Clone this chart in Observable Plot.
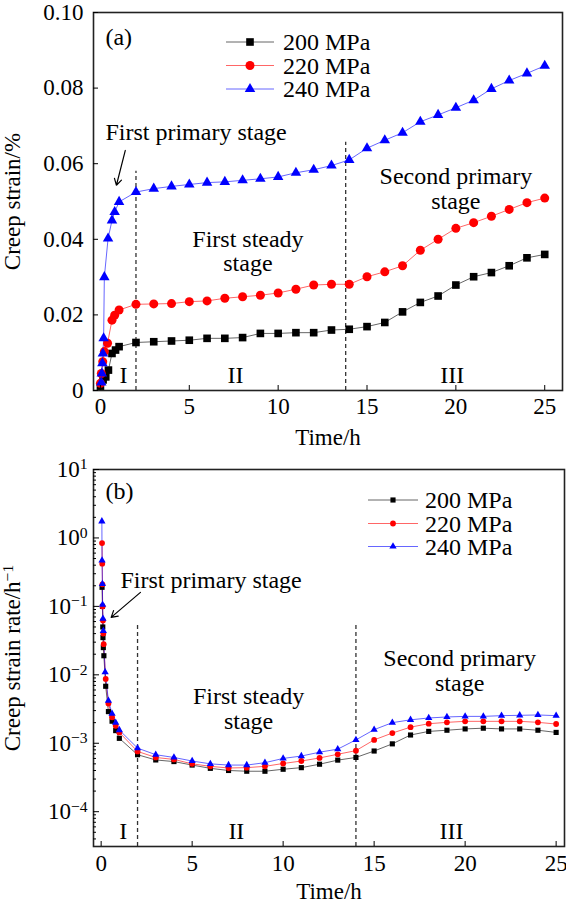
<!DOCTYPE html>
<html><head><meta charset="utf-8">
<script src="https://cdn.jsdelivr.net/npm/d3@7"></script>
<script src="https://cdn.jsdelivr.net/npm/@observablehq/plot@0.6"></script>
<style>
html,body{margin:0;padding:0;background:#fff;}
#chart{width:566px;}
#chart svg{display:block;}
</style></head><body><div id="chart"></div>
<script>
const series = ["200 MPa", "220 MPa", "240 MPa"];
const seriesColors = ["#000000", "#ff0000", "#0000ff"];
const seriesSymbols = ["square", "circle", "triangle"];
const timeTicks = [0, 5, 10, 15, 20, 25];
const strainTicks = [0, 0.02, 0.04, 0.06, 0.08, 0.10];
const rateTicks = [1e-4, 1e-3, 1e-2, 1e-1, 1, 10];

// (a) creep strain, %
const strainHours200 = [0,0.15,0.3,0.45,0.65,0.85,1.05,2,3,4,5,6,7,8,9,10,11,12,13,14,15,16,17,18,19,20,21,22,23,24,25];
const strain200 = [0.001,0.0028,0.0036,0.0054,0.0098,0.0107,0.0116,0.0127,0.0129,0.0131,0.0133,0.0138,0.0138,0.0140,0.0151,0.0151,0.0153,0.0153,0.0160,0.0162,0.0169,0.0180,0.0208,0.0233,0.0250,0.0279,0.0301,0.0312,0.0330,0.0351,0.0360];
const strainHours220 = [0,0.05,0.13,0.22,0.4,0.65,0.8,1.05,2,3,4,5,6,7,8,9,10,11,12,13,14,15,16,17,18,19,20,21,22,23,24,25];
const strain220 = [0.0019,0.0045,0.0076,0.0103,0.0125,0.0186,0.0199,0.0213,0.0228,0.0229,0.0230,0.0235,0.0237,0.0244,0.0248,0.0252,0.0258,0.0268,0.0279,0.0281,0.0281,0.0301,0.0314,0.0330,0.0371,0.0400,0.0429,0.0444,0.0461,0.0479,0.0497,0.0509];
const strainHours240 = [0.05,0.08,0.11,0.14,0.18,0.22,0.43,0.65,0.8,1.05,2,3,4,5,6,7,8,9,10,11,12,13,14,15,16,17,18,19,20,21,22,23,24,25];
const strain240 = [0.0021,0.0045,0.0072,0.0098,0.0138,0.0300,0.0402,0.0450,0.0472,0.0499,0.0525,0.0534,0.0540,0.0545,0.0550,0.0552,0.0556,0.0560,0.0565,0.0576,0.0584,0.0595,0.0610,0.0641,0.0662,0.0682,0.0711,0.0729,0.0748,0.0768,0.0798,0.0820,0.0839,0.0859];

// (b) creep strain rate, 1/h
const rateHours200 = [0.05,0.07,0.09,0.1,0.12,0.15,0.25,0.4,0.6,0.8,1.0,2,3,4,5,6,7,8,9,10,11,12,13,14,15,16,17,18,19,20,21,22,23,24,25];
const rate200 = [0.19,0.1,0.05,0.035,0.025,0.019,0.0068,0.0029,0.0021,0.00153,0.00118,6.8e-4,5.7e-4,5.4e-4,4.8e-4,4.3e-4,4.0e-4,3.9e-4,3.9e-4,4.17e-4,4.4e-4,4.94e-4,5.67e-4,6.2e-4,7.7e-4,9.8e-4,1.32e-3,1.49e-3,1.55e-3,1.62e-3,1.66e-3,1.62e-3,1.62e-3,1.55e-3,1.44e-3];
const rateHours220 = [0.05,0.06,0.07,0.08,0.1,0.12,0.14,0.25,0.4,0.6,0.8,1.0,2,3,4,5,6,7,8,9,10,11,12,13,14,15,16,17,18,19,20,21,22,23,24,25];
const rate220 = [0.84,0.42,0.21,0.1,0.062,0.04,0.028,0.0087,0.0038,0.0024,0.0018,0.00144,7.6e-4,6.2e-4,5.8e-4,5.0e-4,4.6e-4,4.35e-4,4.4e-4,4.6e-4,5.06e-4,5.5e-4,6.1e-4,6.9e-4,7.8e-4,1.12e-3,1.41e-3,1.72e-3,1.93e-3,2.02e-3,2.09e-3,2.09e-3,2.09e-3,2.09e-3,2.02e-3,1.91e-3];
const rateHours240 = [0.04,0.05,0.07,0.08,0.1,0.12,0.22,0.4,0.6,0.8,1.0,2,3,4,5,6,7,8,9,10,11,12,13,14,15,16,17,18,19,20,21,22,23,24,25];
const rate240 = [1.75,0.47,0.213,0.106,0.066,0.044,0.0109,0.0042,0.0027,0.0020,0.00156,8.5e-4,6.8e-4,6.2e-4,5.5e-4,5.0e-4,4.8e-4,4.8e-4,5.2e-4,6.0e-4,6.5e-4,7.4e-4,8.2e-4,1.12e-3,1.58e-3,2.0e-3,2.2e-3,2.34e-3,2.42e-3,2.47e-3,2.47e-3,2.53e-3,2.56e-3,2.59e-3,2.53e-3];

// stage boundaries and annotations
const stageA = [{t: 2, top: 0.058}, {t: 13.8, top: 0.0657}];
const stageB = [{t: 2, top: 0.056}, {t: 14, top: 0.053}];
const notesA = [
  {t: 8.3, v: 0.0368, text: "First steady\nstage"},
  {t: 20.0, v: 0.0534, text: "Second primary\nstage"},
  {t: 1.3, v: 0.0041, text: "I"}, {t: 7.6, v: 0.0041, text: "II"}, {t: 19.8, v: 0.0041, text: "III"}
];
const notesStartA = [{t: 0.28, v: 0.0934, text: "(a)"}, {t: 0.28, v: 0.0683, text: "First primary stage"}];
const notesB = [
  {t: 8.1, v: 3.2e-3, text: "First steady\nstage"},
  {t: 19.7, v: 0.0115, text: "Second primary\nstage"},
  {t: 1.22, v: 5.27e-5, text: "I"}, {t: 7.43, v: 5.27e-5, text: "II"}, {t: 19.25, v: 5.27e-5, text: "III"}
];
const notesStartB = [{t: 0.24, v: 4.77, text: "(b)"}, {t: 1.06, v: 0.238, text: "First primary stage"}];
const arrowA = [{t1: 1.4, v1: 0.0635, t2: 0.9, v2: 0.0543}];
const arrowB = [{t1: 2.16, v1: 0.16, t2: 0.55, v2: 0.069}];

const strainRows = [
  ...strainHours200.map((t, i) => ({s: series[0], t, v: strain200[i]})),
  ...strainHours220.map((t, i) => ({s: series[1], t, v: strain220[i]})),
  ...strainHours240.map((t, i) => ({s: series[2], t, v: strain240[i]}))
];
const rateRows = [
  ...rateHours200.map((t, i) => ({s: series[0], t, v: rate200[i]})),
  ...rateHours220.map((t, i) => ({s: series[1], t, v: rate220[i]})),
  ...rateHours240.map((t, i) => ({s: series[2], t, v: rate240[i]}))
];
const minorRate = [];
for (let e = -5; e < 1; e++) for (let m = 2; m <= 9; m++) { const v = m * Math.pow(10, e); if (v > 3.1e-5 && v < 10) minorRate.push(v); }

const FONT = "'Liberation Serif', 'Times New Roman', serif";
const style = {fontFamily: FONT, fontSize: "23px", color: "#000", background: "#fff", overflow: "visible"};

function seriesMarks(rows, radii) {
  return series.map((s, k) => Plot.dot(rows.filter(d => d.s === s), {
    x: "t", y: "v", symbol: seriesSymbols[k], fill: seriesColors[k], stroke: "none", r: radii[k]
  }));
}

const plotA = Plot.plot({
  width: 566, height: 450, marginTop: 12, marginBottom: 60, marginLeft: 93, marginRight: 4,
  style,
  x: {domain: [-0.39, 26.0]},
  y: {domain: [0, 0.1]},
  color: {domain: series, range: seriesColors},
  marks: [
    Plot.ruleX(stageA, {x: "t", y1: 0, y2: "top", stroke: "#333", strokeWidth: 1.3, strokeDasharray: "4,3"}),
    Plot.line(strainRows, {x: "t", y: "v", z: "s", stroke: "s", strokeWidth: 1, strokeOpacity: 0.6}),
    ...seriesMarks(strainRows, [4.3, 4.5, 3.9]),
    Plot.text(notesA, {x: "t", y: "v", text: "text", fontSize: 24, lineHeight: 1.02, fill: "#000"}),
    Plot.text(notesStartA, {x: "t", y: "v", text: "text", fontSize: 24, textAnchor: "start", fill: "#000"}),
    Plot.arrow(arrowA, {x1: "t1", y1: "v1", x2: "t2", y2: "v2", stroke: "#000", strokeWidth: 1.2, headLength: 9}),
    Plot.frame({stroke: "#222", strokeWidth: 1.6}),
    Plot.axisX({ticks: timeTicks, tickSize: -5, tickPadding: 12, label: "Time/h", labelAnchor: "center", labelOffset: 54.5, labelArrow: "none"}),
    Plot.axisY({ticks: strainTicks, tickSize: -5, tickPadding: 15, tickFormat: d => d === 0 ? "0" : d.toFixed(2), label: "Creep strain/%", labelAnchor: "center", labelArrow: "none"})
  ]
});

const plotB = Plot.plot({
  width: 566, height: 457, marginTop: 19, marginBottom: 61, marginLeft: 93, marginRight: 2,
  style,
  x: {domain: [-0.42, 25.46]},
  y: {type: "log", domain: [3.1e-5, 10]},
  color: {domain: series, range: seriesColors},
  marks: [
    Plot.ruleX(stageB, {x: "t", y1: 3.1e-5, y2: "top", stroke: "#333", strokeWidth: 1.3, strokeDasharray: "4,3"}),
    Plot.line(rateRows, {x: "t", y: "v", z: "s", stroke: "s", strokeWidth: 1, strokeOpacity: 0.6}),
    ...seriesMarks(rateRows, [2.9, 2.9, 2.7]),
    Plot.text(notesB, {x: "t", y: "v", text: "text", fontSize: 24, lineHeight: 1.02, fill: "#000"}),
    Plot.text(notesStartB, {x: "t", y: "v", text: "text", fontSize: 24, textAnchor: "start", fill: "#000"}),
    Plot.arrow(arrowB, {x1: "t1", y1: "v1", x2: "t2", y2: "v2", stroke: "#000", strokeWidth: 1.2, headLength: 9}),
    Plot.frame({stroke: "#222", strokeWidth: 1.6}),
    Plot.axisX({ticks: timeTicks, tickSize: -5, tickPadding: 13, label: "Time/h", labelAnchor: "center", labelOffset: 52, labelArrow: "none"}),
    Plot.axisY(minorRate, {tickSize: -3, tickFormat: () => "", label: null}),
    Plot.axisY({ticks: rateTicks, tickSize: -6, tickPadding: 12, tickFormat: d => String(Math.round(Math.log10(d))), label: "Creep strain rate/h", labelAnchor: "center", labelArrow: "none"})
  ]
});

// superscripts for log tick labels and the rate unit
d3.select(plotB).selectAll('g[aria-label="y-axis tick label"] text').each(function () {
  const e = this.textContent;
  if (!e) return;
  const t = d3.select(this);
  t.text("");
  t.append("tspan").text("10");
  t.append("tspan").attr("dy", "-0.48em").attr("font-size", "0.68em").text(e.replace("-", "\u2212"));
});
d3.select(plotB).selectAll('g[aria-label="y-axis label"] text').each(function () {
  const t = d3.select(this);
  const s = this.textContent;
  t.text("");
  t.append("tspan").text(s);
  t.append("tspan").attr("dy", "-0.45em").attr("font-size", "0.68em").text("\u22121");
});

// in-plot legends
function legend(svg, {xl1, xl2, xm, xt, ys, radii, fontSize}) {
  const g = d3.select(svg).append("g").attr("font-family", FONT).attr("font-size", fontSize).attr("text-anchor", "start");
  const syms = [d3.symbolSquare, d3.symbolCircle, d3.symbolTriangle];
  series.forEach((s, k) => {
    g.append("line").attr("x1", xl1).attr("x2", xl2).attr("y1", ys[k]).attr("y2", ys[k])
      .attr("stroke", seriesColors[k]).attr("stroke-width", 1).attr("stroke-opacity", 0.6);
    g.append("path").attr("transform", `translate(${xm},${ys[k]})`)
      .attr("d", d3.symbol(syms[k], Math.PI * radii[k] * radii[k])()).attr("fill", seriesColors[k]);
    g.append("text").attr("x", xt).attr("y", ys[k]).attr("dy", "0.34em").attr("text-anchor", "start").attr("fill", "#000").text(s);
  });
}
legend(plotA, {xl1: 226, xl2: 274, xm: 250, xt: 283, ys: [42, 65.5, 89], radii: [4.3, 4.5, 3.9], fontSize: 24});
legend(plotB, {xl1: 368, xl2: 418, xm: 393, xt: 425, ys: [50, 73.5, 96.5], radii: [2.9, 2.9, 2.7], fontSize: 24});

document.getElementById("chart").append(plotA, plotB);
</script></body></html>
